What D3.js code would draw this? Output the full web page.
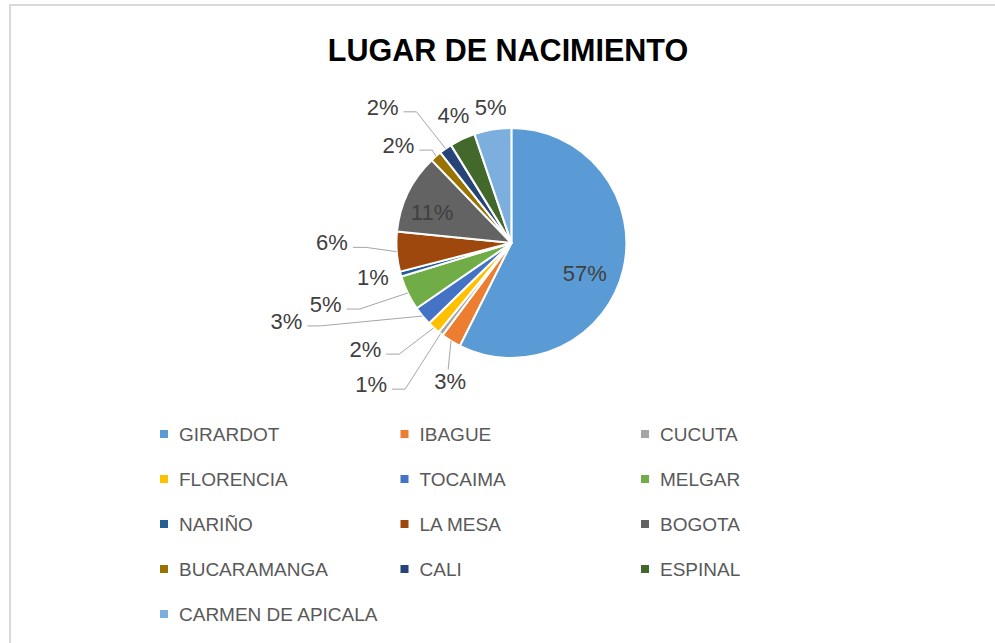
<!DOCTYPE html>
<html>
<head>
<meta charset="utf-8">
<script src="https://cdn.jsdelivr.net/npm/d3@7"></script>
<style>
  body { margin: 0; background: #fff; }
  svg { display: block; }
</style>
</head>
<body>
<script>
// data
var title = 'LUGAR DE NACIMIENTO';
var categories = ['GIRARDOT', 'IBAGUE', 'CUCUTA', 'FLORENCIA', 'TOCAIMA', 'MELGAR', 'NARIÑO',
  'LA MESA', 'BOGOTA', 'BUCARAMANGA', 'CALI', 'ESPINAL', 'CARMEN DE APICALA'];
var values = [57.4, 2.8, 0.7, 1.8, 2.7, 4.9, 0.7, 5.6, 11.2, 1.6, 1.8, 3.6, 5.2];
var colors = ['#5B9BD5', '#ED7D31', '#A5A5A5', '#FFC000', '#4472C4', '#70AD47', '#255E91',
  '#9E480E', '#636363', '#997300', '#264478', '#43682B', '#7CAFDD'];

// label placement (angle in degrees, radius as multiple of pie radius, leader type)
var labelAngle = [112.4, 204, 224.8, 234, 250.9, 251.8, 256.3, 270.2, 291.1, 310.9, 316.6, 335.6, 351.4];
var labelRadius = [0.69, 1.31, 1.73, 1.57, 2.07, 1.70, 1.24, 1.56, 0.74, 1.30, 1.63, 1.22, 1.20];
var leader = [null, 'v', 'h', 'h', 'h', 'h', null, 'h', null, 'h', 'h', null, null];

var width = 995, height = 643;
var cx = 511.4, cy = 243, radius = 115;

var svg = d3.select('body')
  .append('svg')
  .attr('width', width)
  .attr('height', height);

// chart frame
svg.append('rect')
  .attr('x', 10)
  .attr('y', 5)
  .attr('width', width)
  .attr('height', height)
  .attr('fill', '#fff')
  .attr('stroke', '#d9d9d9')
  .attr('stroke-width', 2);

svg.append('text')
  .attr('x', 508)
  .attr('y', 61)
  .attr('text-anchor', 'middle')
  .style('font-family', '"Liberation Sans", Arial, sans-serif')
  .style('font-weight', 'bold')
  .style('font-size', '30.5px')
  .attr('fill', '#000')
  .text(title);

var data = categories.map(function(c, i) {
  return {name: c, value: values[i], color: colors[i], i: i};
});
var total = d3.sum(values);

var pie = d3.pie()
  .sort(null)
  .value(function(d) { return d.value; });

var arc = d3.arc()
  .innerRadius(0)
  .outerRadius(radius);

var arcs = pie(data);

var g = svg.append('g')
  .attr('transform', 'translate(' + cx + ',' + cy + ')');

g.selectAll('path')
  .data(arcs)
  .enter()
  .append('path')
  .attr('d', arc)
  .attr('fill', function(d) { return d.data.color; })
  .attr('stroke', '#fff')
  .attr('stroke-width', 2)
  .attr('stroke-linejoin', 'round');

function polar(angDeg, r) {
  var a = angDeg * Math.PI / 180;
  return [r * Math.sin(a), -r * Math.cos(a)];
}

var labels = g.selectAll('text.pct')
  .data(arcs)
  .enter()
  .append('text')
  .attr('class', 'pct')
  .attr('text-anchor', 'middle')
  .style('font-family', '"Liberation Sans", Arial, sans-serif')
  .style('font-size', '22px')
  .attr('fill', '#404040')
  .attr('x', function(d, i) { return polar(labelAngle[i], labelRadius[i] * radius)[0]; })
  .attr('y', function(d, i) { return polar(labelAngle[i], labelRadius[i] * radius)[1] + 8; })
  .text(function(d) { return Math.round(d.data.value / total * 100) + '%'; });

// leader lines
labels.each(function(d, i) {
  if (!leader[i]) return;
  var w = this.getComputedTextLength();
  var p = polar(labelAngle[i], labelRadius[i] * radius);
  var mid = (d.startAngle + d.endAngle) / 2;
  var end = [radius * Math.sin(mid), -radius * Math.cos(mid)];
  var pts;
  if (leader[i] === 'h') {
    var sx = p[0] + w / 2 + 5, sy = p[1] + 5;
    pts = [[sx, sy], [sx + 13, sy], end];
  } else {
    pts = [[p[0] - 2, p[1] - 11], end];
  }
  g.append('path')
    .attr('d', d3.line()(pts))
    .attr('fill', 'none')
    .attr('stroke', '#a6a6a6')
    .attr('stroke-width', 1);
});

// legend
var legend = svg.append('g');
var colX = d3.scaleLinear().domain([0, 1]).range([160, 400.5]);
var rowY = d3.scaleLinear().domain([0, 1]).range([434, 479]);

var items = legend.selectAll('g')
  .data(data)
  .enter()
  .append('g')
  .attr('transform', function(d) {
    return 'translate(' + colX(d.i % 3) + ',' + rowY(Math.floor(d.i / 3)) + ')';
  });

items.append('rect')
  .attr('x', 0)
  .attr('y', -4)
  .attr('width', 8)
  .attr('height', 8)
  .attr('fill', function(d) { return d.color; });

items.append('text')
  .attr('x', 19)
  .attr('y', 7)
  .style('font-family', '"Liberation Sans", Arial, sans-serif')
  .style('font-size', '19px')
  .attr('fill', '#595959')
  .text(function(d) { return d.name; });
</script>
</body>
</html>
